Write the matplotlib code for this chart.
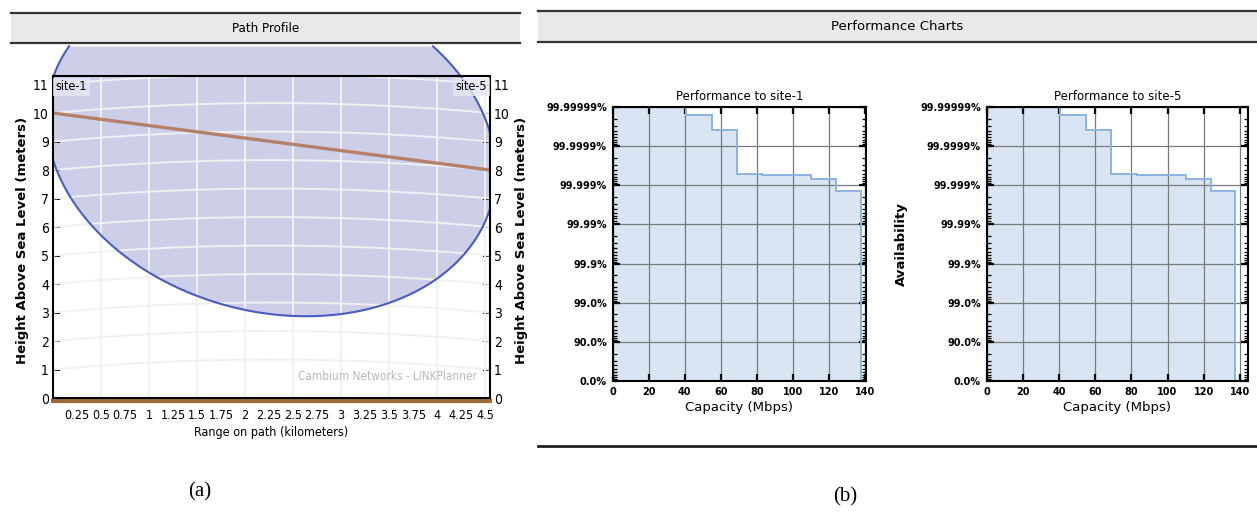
import os
import numpy as np
import matplotlib
matplotlib.use("Agg")
import matplotlib.pyplot as plt
from matplotlib import font_manager as fm
from matplotlib.patches import Rectangle

# ---- path profile data ----
path_km = 4.55
los_heights = [10.0, 8.0]          # line of sight at site-1 / site-5
fresnel_mid = [9.8, 7.98]          # centre line of the zone at both ends
fresnel_center_km = 2.27
fresnel_half_km = 2.34
fresnel_radius_m = 5.95
earth_bulge_m = 0.35
height_ticks = list(range(0, 12))
range_ticks = [0.25 * i for i in range(1, 19)]

# ---- performance data ----
capacity_edges = [0, 40.5, 55, 69, 83, 110, 124, 137.5]
avail_nines = [7.0, 6.8, 6.4, 5.3, 5.25, 5.15, 4.85]
avail_labels = ["0.0%", "90.0%", "99.0%", "99.9%", "99.99%", "99.999%",
                "99.9999%", "99.99999%"]
capacity_ticks = [0, 20, 40, 60, 80, 100, 120, 140]
sites = ["site-1", "site-5"]
cap_xmax = [140.5, 144.6]


def pick_font(keys, size):
    names = {os.path.basename(f.fname).lower(): f.fname for f in fm.fontManager.ttflist}
    for k in keys:
        for n, path in names.items():
            if k in n:
                return fm.FontProperties(fname=path, size=size)
    return fm.FontProperties(family="Liberation Sans", size=size)


cond_keys = ["liberationsansnarrow-regular", "dejavusanscondensed.ttf"]
fp_tick = pick_font(cond_keys, 10)
fp_small = pick_font(cond_keys, 9)
fp_head = pick_font(cond_keys, 9.5)

W, H = 1257, 516
fig = plt.figure(figsize=(W / 100, H / 100), dpi=100)


def fx(px):
    return px / W


def fy(py):
    return 1 - py / H


def header(x0, x1, y0, y1, text, fp):
    fig.add_artist(Rectangle((fx(x0), fy(y1)), fx(x1) - fx(x0), fy(y0) - fy(y1),
                             transform=fig.transFigure, facecolor="#e9e9e9",
                             edgecolor="none"))
    for yy in (y0, y1):
        fig.add_artist(plt.Line2D([fx(x0), fx(x1)], [fy(yy), fy(yy)],
                                  transform=fig.transFigure, color="#333333", lw=1.6))
    fig.text(fx((x0 + x1) / 2), fy((y0 + y1) / 2), text, ha="center", va="center",
             fontproperties=fp)


header(11, 520, 13, 43, "Path Profile", fp_head)
header(538, W, 11, 42, "Performance Charts",
       fm.FontProperties(family="DejaVu Sans", size=9.5))
fig.add_artist(plt.Line2D([fx(538), 1], [fy(446), fy(446)], transform=fig.transFigure,
                          color="#222222", lw=2))

# ---------------- (a) path profile ----------------
ax = fig.add_axes([fx(53), fy(398), fx(490) - fx(53), (398 - 76) / H])
ax.set_xlim(0, path_km)
ax.set_ylim(0, 11.3)
y_header = 11.3 * 352 / 322        # height where the header bar starts

xs = np.linspace(max(0.0, fresnel_center_km - fresnel_half_km),
                 min(path_km, fresnel_center_km + fresnel_half_km), 600)
u = (xs - fresnel_center_km) / fresnel_half_km
mid = fresnel_mid[0] + (fresnel_mid[1] - fresnel_mid[0]) * xs / path_km
half = fresnel_radius_m * np.sqrt(np.clip(1 - u ** 2, 0, None))
lower = mid - half
upper = mid + half
ax.fill_between(xs, lower, np.minimum(upper, y_header), color="#cdcfe8", lw=0,
                zorder=1, clip_on=False)
ax.plot(xs, lower, color="#4a5cc0", lw=1.5, zorder=4, clip_on=False)
ax.plot(xs, np.where(upper <= y_header, upper, np.nan), color="#4a5cc0", lw=1.5,
        zorder=4, clip_on=False)

# curved earth grid
gx = np.linspace(0, path_km, 200)
bulge = earth_bulge_m * 4 * gx * (path_km - gx) / path_km ** 2
for h in height_ticks[1:]:
    ax.plot(gx, h + bulge, color="#f1f1f1", lw=1.4, zorder=2)
for v in np.arange(0.5, path_km, 0.5):
    ax.axvline(v, color="#f1f1f1", lw=1.4, zorder=2)

ax.plot([0, path_km], los_heights, color="#b5806a", lw=2.4, zorder=5)
ax.plot([0, path_km], [-0.09, -0.09], color="#9c6b3a", lw=3, clip_on=False, zorder=3)

ax.set_xticks(range_ticks)
ax.set_xticklabels([f"{t:g}" for t in range_ticks])
ax.set_xticks(np.arange(0.5, 4.6, 0.5), minor=True)
ax.tick_params(axis="x", which="major", length=0, pad=8)
ax.tick_params(axis="x", which="minor", direction="in", length=7, width=1.5,
               top=True, bottom=True)
ax.set_yticks(height_ticks)
ax.tick_params(axis="y", which="major", direction="in", length=5, width=1.3,
               left=True, right=True, labelleft=True, labelright=True, pad=3)
for lbl in ax.get_xticklabels():
    lbl.set_fontproperties(fp_small)
for t in ax.yaxis.get_major_ticks():
    t.label1.set_fontproperties(fp_tick)
    t.label2.set_fontproperties(fp_tick)
for sp in ax.spines.values():
    sp.set_linewidth(1.5)
    sp.set_zorder(6)

ax.set_xlabel("Range on path (kilometers)", fontproperties=fp_small, labelpad=3)
for xpos in (23, 521):
    fig.text(fx(xpos), fy(240), "Height Above Sea Level (meters)", rotation=90,
             ha="center", va="center", fontsize=9.5, fontweight="bold")

box = dict(facecolor="#e6e7f3", edgecolor="none", pad=2, alpha=0.8)
ax.text(0.03, 11.15, sites[0], ha="left", va="top", fontproperties=fp_small,
        bbox=box, zorder=7)
ax.text(path_km - 0.03, 11.15, sites[1], ha="right", va="top", fontproperties=fp_small,
        bbox=box, zorder=7)
ax.text(3.48, 0.75, "Cambium Networks - LINKPlanner", ha="center", va="center",
        color="#b8b8b8", fontproperties=pick_font(cond_keys, 8.5), zorder=7)

# ---------------- (b) performance charts ----------------
minor_y = [n + 1 - np.log10(k) for n in range(7) for k in range(2, 10)]
lefts = [612.5, 986.5]
rights = [866, 1248.3]
for i, site in enumerate(sites):
    a = fig.add_axes([fx(lefts[i]), fy(381), fx(rights[i]) - fx(lefts[i]), (381 - 107) / H])
    a.stairs(avail_nines, capacity_edges, baseline=0, fill=True, color="#dae5f3", zorder=1)
    a.stairs(avail_nines, capacity_edges, baseline=0, fill=False, color="#8db3e2",
             lw=1.4, zorder=3)
    a.set_xlim(0, cap_xmax[i])
    a.set_ylim(0, 7)
    a.set_xticks(capacity_ticks)
    a.set_yticks(range(8))
    a.set_yticklabels(avail_labels)
    a.set_yticks(minor_y, minor=True)
    a.grid(True, which="major", color="#7a7a7a", lw=0.9, zorder=2)
    a.set_axisbelow(False)
    a.tick_params(which="major", direction="in", length=5, width=1.6,
                  top=True, right=True, labelsize=7, pad=4)
    a.tick_params(which="minor", direction="in", length=3, width=0.9,
                  left=True, right=True)
    for lbl in a.get_xticklabels() + a.get_yticklabels():
        lbl.set_fontweight("bold")
    for sp in a.spines.values():
        sp.set_linewidth(1.5)
        sp.set_zorder(5)
    a.set_title(f"Performance to {site}", fontsize=8.5, pad=5)
    a.set_xlabel("Capacity (Mbps)", fontsize=9.5, labelpad=3)
    if i == 1:
        a.set_ylabel("Availability", fontsize=9.5, fontweight="bold")
        a.yaxis.set_label_coords((908 - 986.5) / 262, 0.5)

serif = fm.FontProperties(family="Liberation Serif", size=15)
fig.text(fx(200), fy(492), "(a)", ha="center", va="center", fontproperties=serif)
fig.text(fx(845), fy(497), "(b)", ha="center", va="center", fontproperties=serif)

fig.savefig("out.png", dpi=100)
